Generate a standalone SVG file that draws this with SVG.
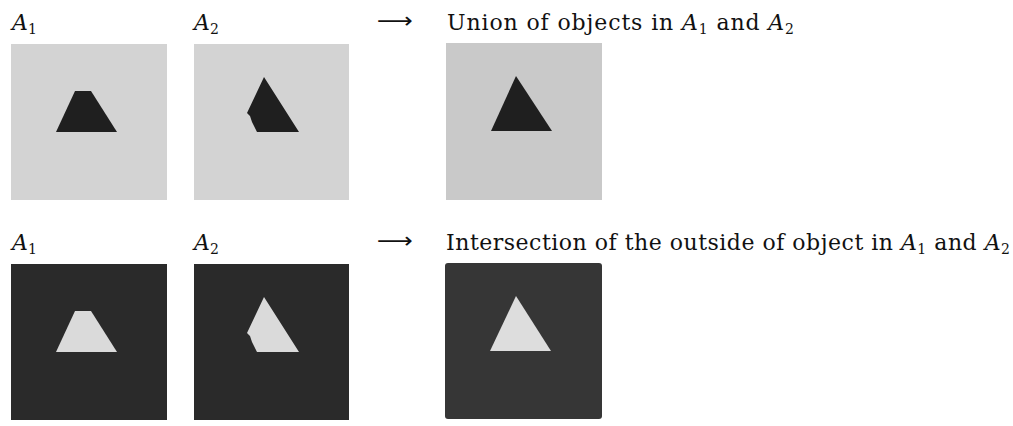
<svg xmlns="http://www.w3.org/2000/svg" width="1013" height="426" viewBox="0 0 1013 426">
<style>
.t{font-family:"DejaVu Serif",serif;font-size:22px;fill:#111}
.m{font-style:italic}
.s{font-size:14px;font-style:normal}
.arr{font-family:"DejaVu Sans",sans-serif;font-size:22px;fill:#111}
.lp{fill:#d3d3d3}
.dp{fill:#2a2a2a}
.ds{fill:#1f1f1f}
.ls{fill:#dadada}
</style>
<rect width="1013" height="426" fill="#ffffff"/>
<g id="row1">
  <g id="label-a1-top"><text class="t m" x="12" y="30">A<tspan class="s" dy="4">1</tspan></text></g>
  <g id="label-a2-top"><text class="t m" x="194" y="30">A<tspan class="s" dy="4">2</tspan></text></g>
  <g id="img-a1-top">
    <rect class="lp" x="11" y="44" width="156" height="156"/>
    <polygon class="ds" points="75,91 91,91 117,132 56,132"/>
  </g>
  <g id="img-a2-top">
    <rect class="lp" x="194" y="44" width="155" height="156"/>
    <polygon class="ds" points="264,77 299,132 257,132 252,122 250,116 247,113"/>
  </g>
  <g id="result-top">
    <text class="t" x="447" y="30" textLength="347" lengthAdjust="spacing">Union of objects in <tspan class="m">A</tspan><tspan class="s" dy="4">1</tspan><tspan dy="-4"> and </tspan><tspan class="m">A</tspan><tspan class="s" dy="4">2</tspan></text>
    <rect x="446" y="43" width="156" height="157" fill="#c9c9c9"/>
    <polygon class="ds" points="516,76 552,131 491,131"/>
  </g>
</g>
<g id="row2">
  <g id="label-a1-bot"><text class="t m" x="12" y="250">A<tspan class="s" dy="4">1</tspan></text></g>
  <g id="label-a2-bot"><text class="t m" x="194" y="250">A<tspan class="s" dy="4">2</tspan></text></g>
  <g id="img-a1-bot">
    <rect class="dp" x="11" y="264" width="156" height="156"/>
    <polygon class="ls" points="75,311 91,311 117,352 56,352"/>
  </g>
  <g id="img-a2-bot">
    <rect class="dp" x="194" y="264" width="155" height="156"/>
    <polygon class="ls" points="264,297 299,352 257,352 252,342 250,336 247,333"/>
  </g>
  <g id="result-bot">
    <text class="t" x="446" y="250" textLength="564" lengthAdjust="spacing">Intersection of the outside of object in <tspan class="m">A</tspan><tspan class="s" dy="4">1</tspan><tspan dy="-4"> and </tspan><tspan class="m">A</tspan><tspan class="s" dy="4">2</tspan></text>
    <rect x="445" y="263" width="157" height="156" rx="3" fill="#363636"/>
    <polygon points="516,296 551,351 490,351" fill="#dddddd"/>
  </g>
</g>
<g id="connectors">
  <text class="arr" x="377" y="28" textLength="36" lengthAdjust="spacingAndGlyphs">⟶</text>
  <text class="arr" x="377" y="248" textLength="36" lengthAdjust="spacingAndGlyphs">⟶</text>
</g>
</svg>
